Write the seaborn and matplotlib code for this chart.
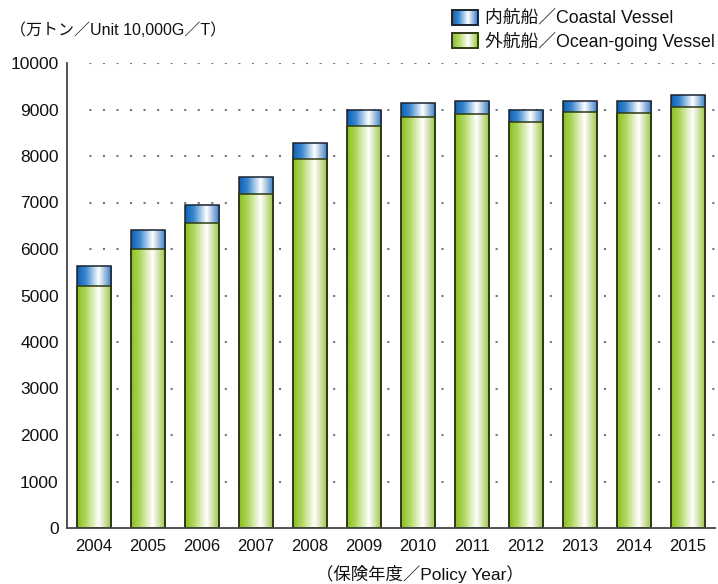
import numpy as np
import pandas as pd
import matplotlib
matplotlib.use("Agg")
import matplotlib.pyplot as plt
from matplotlib.colors import LinearSegmentedColormap
from matplotlib.patches import Rectangle
import seaborn as sns

years = ["2004", "2005", "2006", "2007", "2008", "2009",
         "2010", "2011", "2012", "2013", "2014", "2015"]
ocean_going = [5215, 6002, 6567, 7189, 7927, 8642, 8828, 8899, 8721, 8942, 8927, 9049]
coastal = [422, 401, 373, 365, 356, 337, 322, 294, 258, 251, 266, 264]
y_ticks = [0, 1000, 2000, 3000, 4000, 5000, 6000, 7000, 8000, 9000, 10000]

unit_label = "（万トン／Unit 10,000G／T）"
x_label = "（保険年度／Policy Year）"
coastal_label = "内航船／Coastal Vessel"
ocean_label = "外航船／Ocean-going Vessel"

sns.set_theme(style="white")
plt.rcParams["font.family"] = ["Liberation Sans", "Noto Sans CJK JP", "DejaVu Sans"]

df = pd.DataFrame({"year": years, "ocean": ocean_going, "coastal": coastal})
df["total"] = df["ocean"] + df["coastal"]

blue_cmap = LinearSegmentedColormap.from_list(
    "coastal_grad", [(0.0, "#0a62b4"), (0.25, "#3d86cc"), (0.62, "#ffffff"), (1.0, "#2f78c4")])
green_cmap = LinearSegmentedColormap.from_list(
    "ocean_grad", [(0.0, "#8abf1c"), (0.25, "#b0d562"), (0.62, "#ffffff"), (1.0, "#96c436")])

fig = plt.figure(figsize=(7.18, 5.84), dpi=100)
ax = fig.add_axes([67 / 718, 56 / 584, 648 / 718, 465 / 584])

sns.barplot(data=df, x="year", y="total", color="#2f78c4", width=0.64,
            edgecolor="#1a2230", linewidth=1.1, ax=ax)
n_top = len(ax.patches)
sns.barplot(data=df, x="year", y="ocean", color="#96c436", width=0.64,
            edgecolor="#2e3a12", linewidth=1.1, ax=ax)

grad = np.linspace(0, 1, 256).reshape(1, -1)


def fill_gradient(patch, cmap):
    x0, y0 = patch.get_x(), patch.get_y()
    w, h = patch.get_width(), patch.get_height()
    im = ax.imshow(grad, cmap=cmap, aspect="auto", extent=(x0, x0 + w, y0, y0 + h),
                   origin="lower", zorder=patch.get_zorder() - 0.01, interpolation="bilinear")
    im.set_clip_path(patch)
    patch.set_facecolor("none")


for i, p in enumerate(ax.patches):
    fill_gradient(p, blue_cmap if i < n_top else green_cmap)

ax.set_xlim(-0.5, 11.5)
ax.set_ylim(0, 10000)
ax.set_yticks(y_ticks)
ax.set_yticklabels([str(v) for v in y_ticks], fontsize=12.5)
ax.tick_params(axis="y", direction="in", length=9.5, width=1.2, color="#444444",
               pad=6, labelcolor="#111111")
ax.tick_params(axis="x", length=0, pad=8, labelsize=12, labelcolor="#111111")
ax.set_xlabel("")
ax.set_ylabel("")

for v in y_ticks[1:]:
    ax.axhline(v, xmin=13 / 648, xmax=1, color="#777777", linestyle=(2, (1, 5.5)),
               linewidth=1.5, zorder=0.5)

for side in ["top", "right"]:
    ax.spines[side].set_visible(False)
for side in ["left", "bottom"]:
    ax.spines[side].set_visible(True)
    ax.spines[side].set_color("#444444")
    ax.spines[side].set_linewidth(1.3)

fig.text(10 / 718, 1 - 30 / 584, unit_label, fontsize=11.5, va="center", ha="left", color="#111111")
fig.text(420 / 718, 1 - 574 / 584, x_label, fontsize=12.5, va="center", ha="center", color="#111111")

# legend swatches with the same gradients
for row, (cmap, edge, label) in enumerate([(blue_cmap, "#1a2230", coastal_label),
                                           (green_cmap, "#2e3a12", ocean_label)]):
    top = 10 + row * 23
    lax = fig.add_axes([452 / 718, 1 - (top + 15) / 584, 26 / 718, 15 / 584])
    lax.imshow(grad, cmap=cmap, aspect="auto", extent=(0, 1, 0, 1), interpolation="bilinear")
    lax.add_patch(Rectangle((0, 0), 1, 1, fill=False, edgecolor=edge, linewidth=1.4,
                            transform=lax.transAxes, clip_on=False))
    lax.set_axis_off()
    fig.text(485 / 718, 1 - (top + 8) / 584, label, fontsize=12.8, va="center", ha="left",
             color="#111111")

fig.savefig("out.png", dpi=100)
